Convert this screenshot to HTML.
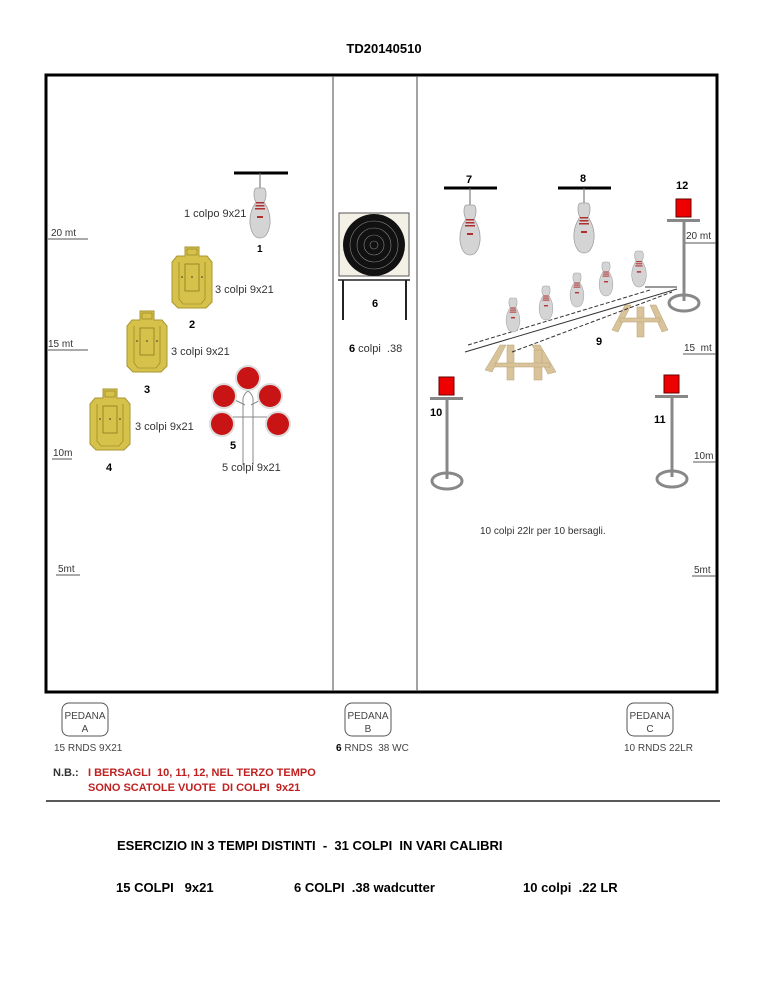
<!DOCTYPE html>
<html><head><meta charset="utf-8"><style>
body{margin:0;background:#fff}
svg{display:block}
text{font-family:"Liberation Sans",sans-serif;white-space:pre}
</style></head><body>
<svg width="768" height="994" viewBox="0 0 768 994" xmlns="http://www.w3.org/2000/svg">
<defs>
<g id="pin">
<path d="M-3,0 Q-6,0 -6,6 Q-6,11 -4,14 Q-11,24 -10,36 Q-8,50 0,50 Q8,50 10,36 Q11,24 4,14 Q6,11 6,6 Q6,0 3,0 Z" fill="#d4d4d4" stroke="#a0a0a0" stroke-width="0.8"/>
<rect x="-4" y="14" width="8" height="1.5" fill="#b03030"/>
<rect x="-4.5" y="17" width="9" height="1.5" fill="#b03030"/>
<rect x="-5" y="20" width="10" height="1.5" fill="#b03030"/>
<rect x="-3" y="28" width="6" height="2" fill="#b03030"/>
</g>
<g id="sil">
<path d="M13,0 H27 V9 H35 L40,15 V55 L34,61 H6 L0,55 V15 L5,9 H13 Z" fill="#d6c24a" stroke="#a89530" stroke-width="1"/>
<rect x="13" y="17" width="14" height="27" fill="none" stroke="#8a7a20" stroke-width="0.8"/>
<path d="M7,15 V52 L11,57 H29 L33,52 V15" fill="none" stroke="#8a7a20" stroke-width="0.6"/>
<rect x="15" y="2" width="10" height="6" fill="none" stroke="#8a7a20" stroke-width="0.6"/>
<circle cx="20" cy="30" r="0.8" fill="#333"/><circle cx="10" cy="30" r="0.8" fill="#333"/><circle cx="30" cy="30" r="0.8" fill="#333"/>
</g>
<g id="stand">
<rect x="-8" y="-22" width="15" height="18" fill="#e00" stroke="#600" stroke-width="1"/>
<rect x="-17" y="-2" width="33" height="3" fill="#888"/>
<rect x="-1.5" y="0" width="3" height="80" fill="#888"/>
<ellipse cx="0" cy="82" rx="15" ry="8" fill="none" stroke="#888" stroke-width="3"/>
</g>
</defs>

<text x="384" y="53" text-anchor="middle" font-size="13" font-weight="bold">TD20140510</text>

<rect x="46" y="75" width="671" height="617" fill="none" stroke="#000" stroke-width="3"/>
<line x1="333" y1="76" x2="333" y2="691" stroke="#666" stroke-width="1.2"/>
<line x1="417" y1="76" x2="417" y2="691" stroke="#666" stroke-width="1.2"/>

<g font-size="10" fill="#333" stroke="none">
<text x="51" y="236">20 mt</text><line x1="48" y1="239" x2="88" y2="239" stroke="#555"/>
<text x="48" y="347">15 mt</text><line x1="48" y1="350" x2="88" y2="350" stroke="#555"/>
<text x="53" y="456">10m</text><line x1="52" y1="459" x2="72" y2="459" stroke="#555"/>
<text x="58" y="572">5mt</text><line x1="56" y1="575" x2="80" y2="575" stroke="#555"/>
<text x="686" y="239">20 mt</text><line x1="683" y1="243" x2="716" y2="243" stroke="#555"/>
<text x="684" y="351">15  mt</text><line x1="683" y1="354" x2="716" y2="354" stroke="#555"/>
<text x="694" y="459">10m</text><line x1="693" y1="462" x2="716" y2="462" stroke="#555"/>
<text x="694" y="573">5mt</text><line x1="692" y1="576" x2="716" y2="576" stroke="#555"/>
</g>

<line x1="234" y1="173" x2="288" y2="173" stroke="#000" stroke-width="3"/>
<line x1="260" y1="173" x2="260" y2="188" stroke="#666"/>
<use href="#pin" transform="translate(260,188)"/>
<text x="184" y="217" font-size="11" fill="#333">1 colpo 9x21</text>
<text x="257" y="252" font-size="10" font-weight="bold">1</text>

<use href="#sil" transform="translate(172,247)"/>
<text x="215" y="293" font-size="11" fill="#333">3 colpi 9x21</text>
<text x="189" y="328" font-size="11" font-weight="bold">2</text>
<use href="#sil" transform="translate(127,311)"/>
<text x="171" y="355" font-size="11" fill="#333">3 colpi 9x21</text>
<text x="144" y="393" font-size="11" font-weight="bold">3</text>
<use href="#sil" transform="translate(90,389)"/>
<text x="135" y="430" font-size="11" fill="#333">3 colpi 9x21</text>
<text x="106" y="471" font-size="11" font-weight="bold">4</text>

<g stroke="#888" stroke-width="1" fill="none">
<path d="M243,465 V398 Q248,385 253,398 V465"/>
<line x1="217" y1="417" x2="280" y2="417"/>
<line x1="245" y1="405" x2="225" y2="395"/><line x1="251" y1="405" x2="270" y2="395"/>
</g>
<g fill="#c81414" stroke="#ddd" stroke-width="2">
<circle cx="248" cy="378" r="12"/><circle cx="224" cy="396" r="12"/><circle cx="270" cy="396" r="12"/>
<circle cx="222" cy="424" r="12"/><circle cx="278" cy="424" r="12"/>
</g>
<text x="230" y="449" font-size="11" font-weight="bold">5</text>
<text x="222" y="471" font-size="11" fill="#333">5 colpi 9x21</text>

<rect x="339" y="213" width="70" height="63" fill="#f3f0e6" stroke="#555"/>
<circle cx="374" cy="245" r="31" fill="#111"/>
<g fill="none" stroke="#888" stroke-width="0.6">
<circle cx="374" cy="245" r="24"/><circle cx="374" cy="245" r="17"/><circle cx="374" cy="245" r="10"/><circle cx="374" cy="245" r="4"/>
</g>
<line x1="338" y1="280" x2="410" y2="280" stroke="#222" stroke-width="1.5"/>
<line x1="343" y1="280" x2="343" y2="320" stroke="#222" stroke-width="2"/>
<line x1="406" y1="280" x2="406" y2="320" stroke="#222" stroke-width="2"/>
<text x="372" y="307" font-size="11" font-weight="bold">6</text>
<text x="349" y="352" font-size="11" fill="#333"><tspan font-weight="bold" fill="#000">6</tspan> colpi  .38</text>

<line x1="444" y1="188" x2="497" y2="188" stroke="#000" stroke-width="3"/>
<text x="466" y="183" font-size="11" font-weight="bold">7</text>
<line x1="470" y1="188" x2="470" y2="205" stroke="#666"/>
<use href="#pin" transform="translate(470,205)"/>
<line x1="558" y1="188" x2="611" y2="188" stroke="#000" stroke-width="3"/>
<text x="580" y="182" font-size="11" font-weight="bold">8</text>
<line x1="584" y1="188" x2="584" y2="203" stroke="#666"/>
<use href="#pin" transform="translate(584,203)"/>

<g fill="#d9c39a" stroke="#b8a070" stroke-width="0.5">
<path d="M485,370 L500,345 L506,345 L492,372 Z"/><path d="M532,345 L540,345 L556,372 L548,374 Z"/>
<rect x="507" y="345" width="7" height="35"/><rect x="534" y="350" width="8" height="30"/>
<rect x="495" y="363" width="55" height="4"/>
<path d="M612,330 L625,305 L631,305 L618,332 Z"/><path d="M650,305 L656,305 L668,330 L662,332 Z"/>
<rect x="637" y="307" width="7" height="30"/><rect x="620" y="318" width="40" height="4"/>
</g>
<g stroke="#333" stroke-width="1" fill="none">
<line x1="465" y1="352" x2="677" y2="289"/>
<line x1="512" y1="352" x2="672" y2="292" stroke-dasharray="4,2"/>
<line x1="468" y1="345" x2="650" y2="290" stroke-dasharray="4,2"/>
<line x1="645" y1="287" x2="677" y2="287"/>
</g>
<use href="#pin" transform="translate(513,298) scale(0.68)"/>
<use href="#pin" transform="translate(546,286) scale(0.68)"/>
<use href="#pin" transform="translate(577,273) scale(0.68)"/>
<use href="#pin" transform="translate(606,262) scale(0.68)"/>
<use href="#pin" transform="translate(639,251) scale(0.72)"/>
<text x="596" y="345" font-size="11" font-weight="bold">9</text>

<use href="#stand" transform="translate(684,221)"/>
<text x="676" y="189" font-size="11" font-weight="bold">12</text>
<use href="#stand" transform="translate(447,399)"/>
<text x="430" y="416" font-size="11" font-weight="bold">10</text>
<use href="#stand" transform="translate(672,397)"/>
<text x="654" y="423" font-size="11" font-weight="bold">11</text>

<text x="480" y="534" font-size="10" fill="#333">10 colpi 22lr per 10 bersagli.</text>

<g fill="#fff" stroke="#555" stroke-width="1">
<rect x="62" y="703" width="46" height="33" rx="7"/>
<rect x="345" y="703" width="46" height="33" rx="7"/>
<rect x="627" y="703" width="46" height="33" rx="7"/>
</g>
<g font-size="10" fill="#444" text-anchor="middle">
<text x="85" y="719">PEDANA</text><text x="85" y="732">A</text>
<text x="368" y="719">PEDANA</text><text x="368" y="732">B</text>
<text x="650" y="719">PEDANA</text><text x="650" y="732">C</text>
</g>
<g font-size="10" fill="#444">
<text x="54" y="751">15 RNDS 9X21</text>
<text x="336" y="751"><tspan font-weight="bold" fill="#000">6</tspan> RNDS  38 WC</text>
<text x="624" y="751">10 RNDS 22LR</text>
</g>
<text x="53" y="776" font-size="11" font-weight="bold" fill="#333">N.B.:</text>
<text x="88" y="776" font-size="11" font-weight="bold" fill="#c02020">I BERSAGLI  10, 11, 12, NEL TERZO TEMPO</text>
<text x="88" y="791" font-size="11" font-weight="bold" fill="#c02020">SONO SCATOLE VUOTE  DI COLPI  9x21</text>
<line x1="46" y1="801" x2="720" y2="801" stroke="#222" stroke-width="1.5"/>

<g font-size="13" font-weight="bold">
<text x="117" y="850">ESERCIZIO IN 3 TEMPI DISTINTI  -  31 COLPI  IN VARI CALIBRI</text>
<text x="116" y="892">15 COLPI   9x21</text>
<text x="294" y="892">6 COLPI  .38 wadcutter</text>
<text x="523" y="892">10 colpi  .22 LR</text>
</g>
</svg>
</body></html>
